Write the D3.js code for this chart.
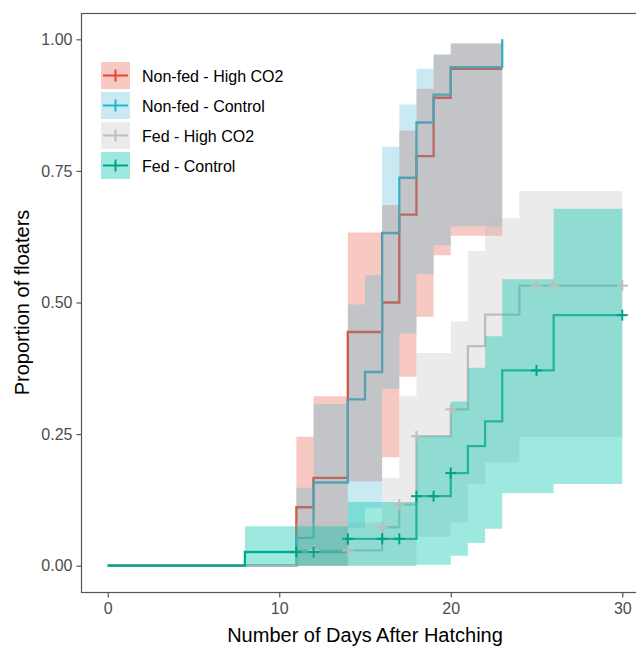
<!DOCTYPE html>
<html>
<head>
<meta charset="utf-8">
<script src="https://cdn.jsdelivr.net/npm/d3@7"></script>
<style>
  body { margin: 0; background: #fff; }
  text { font-family: "Liberation Sans", Arial, sans-serif; }
</style>
</head>
<body>
<div id="chart"></div>
<script>
// groups, in legend order
var groupNames = ["Non-fed - High CO2", "Non-fed - Control", "Fed - High CO2", "Fed - Control"];

// Non-fed - High CO2
var nhTime  = [0, 11, 12, 14, 16, 17, 18, 19, 20, 23];
var nhEst   = [0, 0.111, 0.167, 0.444, 0.500, 0.667, 0.778, 0.889, 0.944, 0.944];
var nhLower = [0, 0, 0, 0.160, 0.206, 0.359, 0.473, 0.590, 0.627, 0.627];
var nhUpper = [0, 0.245, 0.322, 0.633, 0.685, 0.827, 0.906, 0.970, 0.992, 0.992];
var nhCensor = [];

// Non-fed - Control
var ncTime  = [0, 11, 12, 14, 15, 16, 17, 18, 19, 20, 23];
var ncEst   = [0, 0.053, 0.158, 0.316, 0.368, 0.632, 0.737, 0.842, 0.895, 0.947, 1.000];
var ncLower = [0, 0, 0, 0.071, 0.110, 0.336, 0.441, 0.554, 0.609, 0.645, 0.645];
var ncUpper = [0, 0.148, 0.307, 0.496, 0.552, 0.796, 0.876, 0.944, 0.972, 0.992, 0.992];
var ncCensor = [];

// Fed - High CO2
var fhTime  = [0, 11, 16, 17, 18, 20, 21, 22, 24, 30];
var fhEst   = [0, 0.029, 0.073, 0.116, 0.246, 0.297, 0.417, 0.477, 0.532, 0.532];
var fhLower = [0, 0, 0, 0, 0.055, 0.082, 0.155, 0.196, 0.245, 0.245];
var fhUpper = [0, 0.082, 0.167, 0.322, 0.404, 0.464, 0.598, 0.660, 0.712, 0.712];
var fhCensor = [12, 14, 16, 17, 18, 20, 25, 26, 30];

// Fed - Control
var fcTime  = [0, 8, 14, 18, 20, 21, 22, 23, 26, 30];
var fcEst   = [0, 0.026, 0.051, 0.132, 0.176, 0.227, 0.274, 0.371, 0.476, 0.476];
var fcLower = [0, 0, 0, 0.002, 0.019, 0.043, 0.070, 0.138, 0.155, 0.155];
var fcUpper = [0, 0.075, 0.121, 0.246, 0.312, 0.376, 0.436, 0.544, 0.678, 0.678];
var fcCensor = [11, 12, 14, 16, 17, 18, 19, 20, 25, 30];

var xTicks = [0, 10, 20, 30];
var yTicks = [0, 0.25, 0.5, 0.75, 1];

var lineColors = ["#E8472F", "#1DB8D6", "#BEBEBE", "#00A38A"];
var fillColors = ["#E64B35", "#4DBBD5", "#BEBEBE", "#00C4AA"];
var fillAlpha  = [0.3, 0.3, 0.3, 0.38];

var series = [
  {t: nhTime, est: nhEst, lo: nhLower, hi: nhUpper, cens: nhCensor},
  {t: ncTime, est: ncEst, lo: ncLower, hi: ncUpper, cens: ncCensor},
  {t: fhTime, est: fhEst, lo: fhLower, hi: fhUpper, cens: fhCensor},
  {t: fcTime, est: fcEst, lo: fcLower, hi: fcUpper, cens: fcCensor}
];

var W = 636, H = 648;
var panel = {left: 82, top: 13, right: 648, bottom: 592};

var svg = d3.select("#chart").append("svg")
    .attr("width", W)
    .attr("height", H);

var x = d3.scaleLinear().domain([-1.5, 31.5]).range([panel.left, panel.right]);
var y = d3.scaleLinear().domain([-0.05, 1.05]).range([panel.bottom, panel.top]);

var plot = svg.append("g");

var line = d3.line()
    .x(function (d) { return x(d[0]); })
    .y(function (d) { return y(d[1]); })
    .curve(d3.curveStepAfter);

var area = d3.area()
    .x(function (d) { return x(d[0]); })
    .y0(function (d) { return y(d[1]); })
    .y1(function (d) { return y(d[2]); })
    .curve(d3.curveStepAfter);

// step lines first, ribbons drawn over them
series.forEach(function (s, i) {
  var pts = s.t.map(function (t, j) { return [t, s.est[j]]; });
  plot.append("path")
      .attr("d", line(pts))
      .attr("fill", "none")
      .attr("stroke", lineColors[i])
      .attr("stroke-width", 2.3);
});

series.forEach(function (s, i) {
  var pts = s.t.map(function (t, j) { return [t, s.lo[j], s.hi[j]]; }).slice(1);
  plot.append("path")
      .attr("d", area(pts))
      .attr("fill", fillColors[i])
      .attr("fill-opacity", fillAlpha[i]);
});

// censor marks
function stepValue(s, t) {
  var k = d3.bisectRight(s.t, t) - 1;
  return s.est[Math.max(0, k)];
}
series.forEach(function (s, i) {
  s.cens.forEach(function (t) {
    var cx = x(t), cy = y(stepValue(s, t));
    var g = plot.append("g").attr("stroke", lineColors[i]).attr("stroke-width", 2);
    g.append("line").attr("x1", cx - 5.5).attr("x2", cx + 5.5).attr("y1", cy).attr("y2", cy);
    g.append("line").attr("x1", cx).attr("x2", cx).attr("y1", cy - 5.5).attr("y2", cy + 5.5);
  });
});

// panel border
svg.append("rect")
    .attr("x", panel.left - 0.5)
    .attr("y", panel.top + 0.5)
    .attr("width", panel.right - panel.left)
    .attr("height", panel.bottom - panel.top)
    .attr("fill", "none")
    .attr("stroke", "#555")
    .attr("stroke-width", 1.2);

// axes
var yAxis = svg.append("g")
    .attr("transform", "translate(" + (panel.left - 0.5) + ",0)")
    .call(d3.axisLeft(y).tickValues(yTicks).tickFormat(d3.format(".2f")).tickSize(5).tickPadding(4));
var xAxis = svg.append("g")
    .attr("transform", "translate(0," + (panel.bottom + 0.5) + ")")
    .call(d3.axisBottom(x).tickValues(xTicks).tickSize(5).tickPadding(5));
[xAxis, yAxis].forEach(function (a) {
  a.select(".domain").remove();
  a.selectAll(".tick line").attr("stroke", "#555").attr("stroke-width", 1.2);
  a.selectAll(".tick text")
      .attr("fill", "#4D4D4D")
      .style("font-size", "16px")
      .style("font-family", "'Liberation Sans', Arial, sans-serif");
});

svg.append("text")
    .attr("x", (panel.left + 648) / 2)
    .attr("y", 642)
    .attr("text-anchor", "middle")
    .attr("font-size", "20px")
    .attr("fill", "#000")
    .text("Number of Days After Hatching");

svg.append("text")
    .attr("transform", "translate(29," + ((panel.top + panel.bottom) / 2) + ") rotate(-90)")
    .attr("text-anchor", "middle")
    .attr("font-size", "20px")
    .attr("fill", "#000")
    .text("Proportion of floaters");

// legend
var legend = svg.append("g").attr("transform", "translate(101,62)");
groupNames.forEach(function (name, i) {
  var row = legend.append("g").attr("transform", "translate(0," + (i * 30) + ")");
  row.append("rect")
      .attr("width", 29)
      .attr("height", 27)
      .attr("fill", fillColors[i])
      .attr("fill-opacity", fillAlpha[i]);
  row.append("line")
      .attr("x1", 2).attr("x2", 27).attr("y1", 13.5).attr("y2", 13.5)
      .attr("stroke", lineColors[i]).attr("stroke-width", 2);
  row.append("line")
      .attr("x1", 14.5).attr("x2", 14.5).attr("y1", 7.5).attr("y2", 19.5)
      .attr("stroke", lineColors[i]).attr("stroke-width", 2);
  row.append("text")
      .attr("x", 41)
      .attr("y", 14.5)
      .attr("dy", "0.36em")
      .attr("font-size", "16px")
      .attr("fill", "#000")
      .text(name);
});
</script>
</body>
</html>
